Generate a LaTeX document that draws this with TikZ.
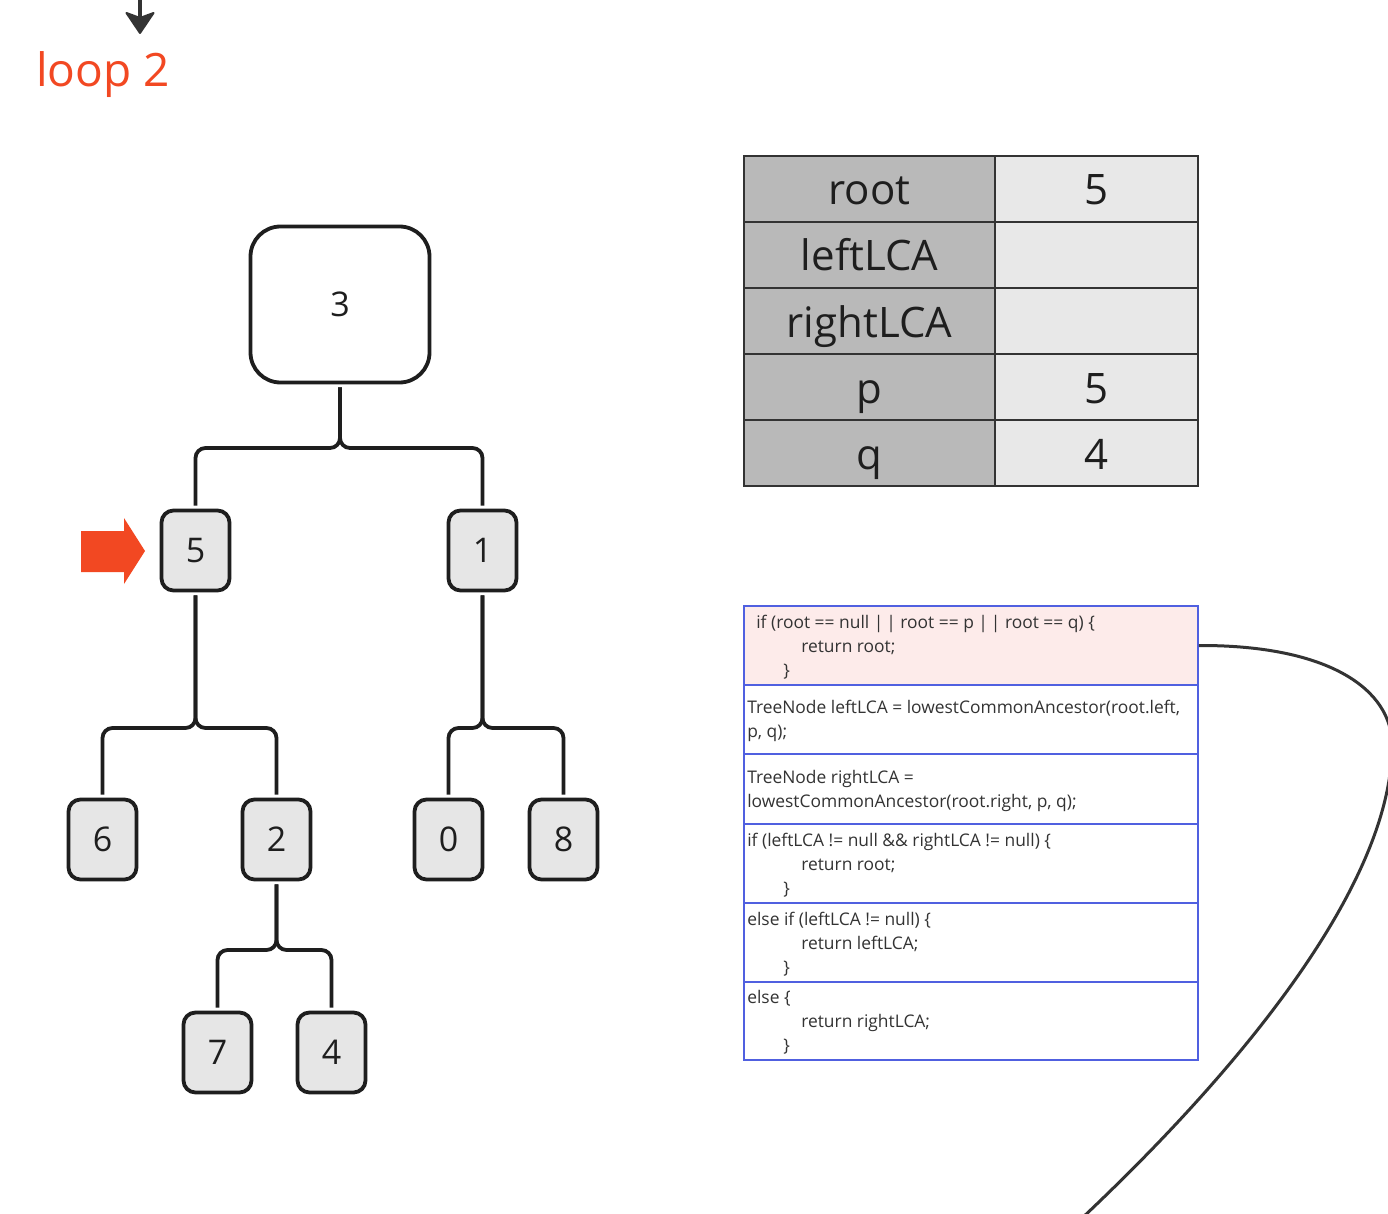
\documentclass[tikz,border=0pt]{standalone}
\usepackage{fontspec}
\setmainfont{Open Sans}
\usetikzlibrary{arrows.meta}
\definecolor{ink}{HTML}{1E1E1E}
\definecolor{dark}{HTML}{333333}
\definecolor{accent}{HTML}{F24822}
\definecolor{nodefill}{HTML}{E6E6E6}
\definecolor{lgray}{HTML}{B9B9B9}
\definecolor{rgray}{HTML}{E8E8E8}
\definecolor{codeblue}{HTML}{5060E0}
\definecolor{pink}{HTML}{FDEBEA}
\begin{document}
\begin{tikzpicture}[x=1pt,y=-1pt,
  tnode/.style={draw=ink, line width=3.8pt, fill=nodefill, rounded corners=12pt,
    minimum width=68pt, minimum height=80pt, inner sep=0pt, text=ink,
    font=\fontsize{34}{40}\selectfont},
  bignode/.style={tnode, fill=white, rounded corners=30pt, minimum width=179pt, minimum height=156pt},
  conn/.style={draw=ink, line width=3.8pt, rounded corners=10pt, shorten <=3pt, shorten >=3pt},
  cell/.style={draw=dark, line width=1.8pt, minimum height=66pt, inner sep=0pt, text=ink,
    font=\fontsize{42}{48}\selectfont, text height=39pt, text depth=7pt},
  lcell/.style={cell, fill=lgray, minimum width=251pt},
  rcell/.style={cell, fill=rgray, minimum width=203pt},
  crow/.style={draw=codeblue, line width=1.8pt, fill=white, minimum width=454pt, inner sep=0pt},
  ctext/.style={anchor=west, align=left, inner sep=0pt, text=dark, font=\fontsize{17.4}{24}\selectfont},
]
\clip (0,0) rectangle (1388,1214);
\fill[white] (0,0) rectangle (1388,1214);

% top arrow and label
\coordinate (ta) at (140,-2);
\coordinate (tn) at (140,18);
\coordinate (tb) at (140,33);
\draw[dark, line width=4pt] (ta) -- (tn);
\filldraw[dark, line width=2pt, line join=round] (tb) -- (153.5,13) -- (tn) -- (126.5,13) -- cycle;
\node[anchor=base west, inner sep=0pt, text=accent, font=\fontsize{46}{54}\selectfont] (loop) at (36,87) {loop 2};

% tree nodes
\node[bignode] (n3) at (340,304.5) {3};
\node[tnode] (n5) at (195.5,550.5) {5};
\node[tnode] (n1) at (482.5,550.5) {1};
\node[tnode] (n6) at (102.5,839.5) {6};
\node[tnode] (n2) at (276.5,839.5) {2};
\node[tnode] (n0) at (448.5,839.5) {0};
\node[tnode] (n8) at (563.5,839.5) {8};
\node[tnode] (n7) at (217.5,1052.5) {7};
\node[tnode] (n4) at (331.5,1052.5) {4};

% junctions
\coordinate (j3) at (340,448);
\coordinate (j5) at (195.5,728);
\coordinate (j1) at (482.5,728);
\coordinate (j2) at (276.5,950);

\draw[conn] (n3.south) -- (j3) -| (n5.north);
\draw[conn] (n3.south) -- (j3) -| (n1.north);
\draw[conn] (n5.south) -- (j5) -| (n6.north);
\draw[conn] (n5.south) -- (j5) -| (n2.north);
\draw[conn] (n1.south) -- (j1) -| (n0.north);
\draw[conn] (n1.south) -- (j1) -| (n8.north);
\draw[conn] (n2.south) -- (j2) -| (n7.north);
\draw[conn] (n2.south) -- (j2) -| (n4.north);

% red pointer
\fill[accent] (81,531) -- (124,531) -- (124,518) -- (145,551) -- (124,584) -- (124,572) -- (81,572) -- cycle;

% variable table
\node[lcell] (r1l) at (869.5,189) {root};
\node[rcell] (r1r) at (1096.5,189) {5};
\node[lcell] (r2l) at (869.5,255) {leftLCA};
\node[rcell] (r2r) at (1096.5,255) {};
\node[lcell] (r3l) at (869.5,321) {rightLCA};
\node[rcell] (r3r) at (1096.5,321) {};
\node[lcell] (r4l) at (869.5,387) {p};
\node[rcell] (r4r) at (1096.5,387) {5};
\node[lcell] (r5l) at (869.5,453) {q};
\node[rcell] (r5r) at (1096.5,453) {4};

% code box
\node[crow, fill=pink, minimum height=79pt] (c1) at (971,645.5) {};
\node[crow, minimum height=69pt] (c2) at (971,719.5) {};
\node[crow, minimum height=70pt] (c3) at (971,789) {};
\node[crow, minimum height=79pt] (c4) at (971,863.5) {};
\node[crow, minimum height=79pt] (c5) at (971,942.5) {};
\node[crow, minimum height=78pt] (c6) at (971,1021) {};

\node[ctext] (t1) at ([xshift=4pt,yshift=-1.5pt]c1.west) {\hspace*{9pt}if (root == null |\,| root == p |\,| root == q) \{\\\hspace*{54pt}return root;\\\hspace*{36pt}\}};
\node[ctext] (t2) at ([xshift=4pt,yshift=-1.5pt]c2.west) {TreeNode leftLCA = lowestCommonAncestor(root.left,\\p, q);};
\node[ctext] (t3) at ([xshift=4pt,yshift=-1.5pt]c3.west) {TreeNode rightLCA =\\lowestCommonAncestor(root.right, p, q);};
\node[ctext] (t4) at ([xshift=4pt,yshift=-1.5pt]c4.west) {if (leftLCA != null \&\& rightLCA != null) \{\\\hspace*{54pt}return root;\\\hspace*{36pt}\}};
\node[ctext] (t5) at ([xshift=4pt,yshift=-1.5pt]c5.west) {else if (leftLCA != null) \{\\\hspace*{54pt}return leftLCA;\\\hspace*{36pt}\}};
\node[ctext] (t6) at ([xshift=4pt,yshift=-1.5pt]c6.west) {else \{\\\hspace*{54pt}return rightLCA;\\\hspace*{36pt}\}};

% loop curve
\coordinate (cend) at (1080,1220);
\draw[dark, line width=3pt] (c1.east) .. controls (1330,645) and (1392,690) .. (1392,745)
  .. controls (1392,880) and (1250,1060) .. (cend);
\end{tikzpicture}
\end{document}
